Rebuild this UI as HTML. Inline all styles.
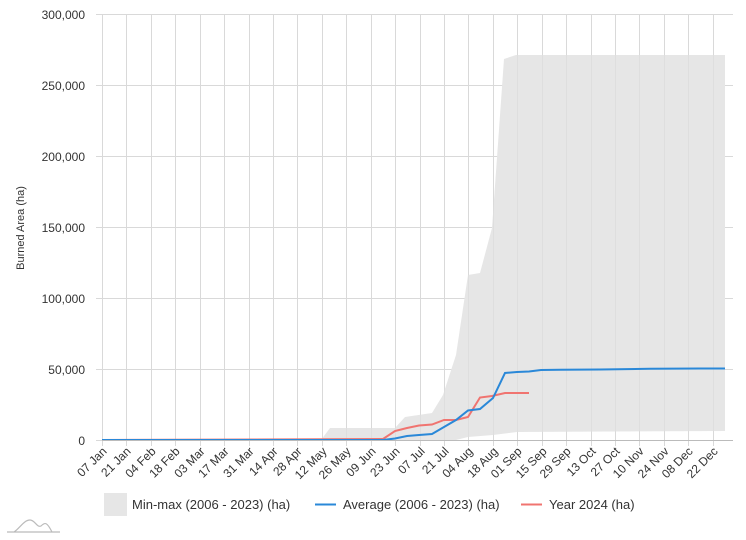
<!DOCTYPE html>
<html><head><meta charset="utf-8"><style>
body{margin:0;background:#fff;}
svg{display:block;font-family:"Liberation Sans",Arial,sans-serif;}
</style></head><body>
<svg width="746" height="540" viewBox="0 0 746 540" xmlns="http://www.w3.org/2000/svg">
<g stroke="#d9d9d9" stroke-width="1">
<line x1="96" y1="14.5" x2="733" y2="14.5"/>
<line x1="96" y1="85.5" x2="733" y2="85.5"/>
<line x1="96" y1="156.5" x2="733" y2="156.5"/>
<line x1="96" y1="227.5" x2="733" y2="227.5"/>
<line x1="96" y1="298.5" x2="733" y2="298.5"/>
<line x1="96" y1="369.5" x2="733" y2="369.5"/>
<line x1="96" y1="440.5" x2="733" y2="440.5"/>
</g>
<g stroke="#d9d9d9" stroke-width="1" id="vg"></g>
<polygon fill="#e6e6e6" points="321,440 330,428 395,428 405,417 432,413 443,395 456,355 468,275 480,273 492,228 504,59 516,55 725,55 725,431 517,432 493,435 468,437 456,440"/>
<g id="vg2" stroke="#d9d9d9" stroke-width="1" opacity="0.6"></g>
<polyline fill="none" stroke="#f07470" stroke-width="2" points="102,440 383,439 395,431 407,428 419,425.5 432,424.5 444,420 456,420 468,417 480,397.5 492,396 505,393 517,393 529,393"/>
<polyline fill="none" stroke="#2a88d8" stroke-width="2" points="102,440 383,440 395,438.5 407,436 419,435 432,434 444,427 456,420 468,410.5 480,409 493,398 505,373 517,372 529,371.5 541,370 560,369.8 600,369.5 650,368.8 700,368.5 725,368.5"/>
<line x1="102" y1="440.5" x2="733" y2="440.5" stroke="#bbb"/>
<g font-size="12" fill="#333" text-anchor="end">
<text x="85" y="19">300,000</text>
<text x="85" y="90">250,000</text>
<text x="85" y="161">200,000</text>
<text x="85" y="232">150,000</text>
<text x="85" y="303">100,000</text>
<text x="85" y="374">50,000</text>
<text x="85" y="445">0</text>
</g>
<text transform="translate(24,228) rotate(-90)" font-size="11" fill="#333" text-anchor="middle">Burned Area (ha)</text>
<g id="xl" font-size="12" fill="#333" text-anchor="end"></g>
<rect x="104" y="493" width="23" height="23" fill="#e6e6e6"/>
<text x="132" y="509" font-size="13" fill="#333">Min-max (2006 - 2023) (ha)</text>
<line x1="315" y1="504.5" x2="336" y2="504.5" stroke="#2a88d8" stroke-width="2"/>
<text x="343" y="509" font-size="13" fill="#333">Average (2006 - 2023) (ha)</text>
<line x1="521" y1="504.5" x2="542" y2="504.5" stroke="#f07470" stroke-width="2"/>
<text x="549" y="509" font-size="13" fill="#333">Year 2024 (ha)</text>
<path d="M7,532 L60,532 M14,532 C20,528 24,520 30,520 C35,520 37,528 41,526 C45,522 47,522 52,532" fill="none" stroke="#bbb" stroke-width="1.2"/>
</svg>
<script>
var labels=["07 Jan","21 Jan","04 Feb","18 Feb","03 Mar","17 Mar","31 Mar","14 Apr","28 Apr","12 May","26 May","09 Jun","23 Jun","07 Jul","21 Jul","04 Aug","18 Aug","01 Sep","15 Sep","29 Sep","13 Oct","27 Oct","10 Nov","24 Nov","08 Dec","22 Dec"];
var ns="http://www.w3.org/2000/svg",vg=document.getElementById("vg"),vg2=document.getElementById("vg2"),xl=document.getElementById("xl");
labels.forEach(function(l,i){var x=Math.round(102+i*24.43)+0.5;
[vg,vg2].forEach(function(g){var ln=document.createElementNS(ns,"line");ln.setAttribute("x1",x);ln.setAttribute("x2",x);ln.setAttribute("y1",14);ln.setAttribute("y2",g===vg?446:440);g.appendChild(ln);});
var t=document.createElementNS(ns,"text");t.setAttribute("transform","translate("+(x+5)+",452) rotate(-45)");t.textContent=l;xl.appendChild(t);});
</script>
</body></html>
